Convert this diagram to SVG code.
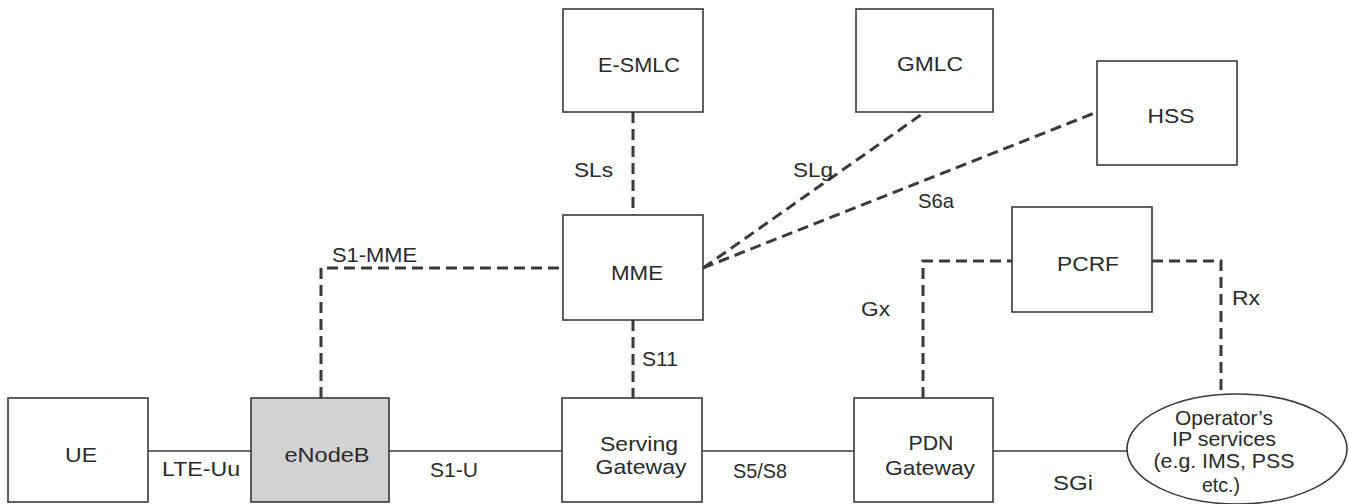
<svg xmlns="http://www.w3.org/2000/svg" width="1349" height="504" viewBox="0 0 1349 504">
<style>
.box{fill:#fff;stroke:#3a3a3a;stroke-width:1.6}
.gray{fill:#d2d2d2}
.solid{fill:none;stroke:#3a3a3a;stroke-width:1.6}
.dash{fill:none;stroke:#3a3a3a;stroke-width:3;stroke-dasharray:11 6}
text{font-family:"Liberation Sans",Arial,sans-serif;font-size:21px;fill:#2a2a2a}
.c{text-anchor:middle}
</style>
<rect width="1349" height="504" fill="#fff"/>
<g id="connectors">
<line class="solid" x1="148" y1="451" x2="251" y2="451"/>
<line class="solid" x1="389" y1="451" x2="562" y2="451"/>
<line class="solid" x1="702" y1="451" x2="854" y2="451"/>
<line class="solid" x1="993" y1="451" x2="1127" y2="451"/>
<path class="dash" d="M321,398 V268 H563"/>
<line class="dash" x1="633" y1="112" x2="633" y2="215"/>
<line class="dash" x1="633" y1="320" x2="633" y2="398"/>
<line class="dash" x1="703" y1="268" x2="925" y2="112"/>
<line class="dash" x1="703" y1="268" x2="1097" y2="112"/>
<path class="dash" d="M923,398 V261 H1012"/>
<path class="dash" d="M1152,261 H1221 V395"/>
<text x="162" y="476" textLength="78" lengthAdjust="spacingAndGlyphs">LTE-Uu</text>
<text x="430" y="477" textLength="48" lengthAdjust="spacingAndGlyphs">S1-U</text>
<text x="733" y="478" textLength="54" lengthAdjust="spacingAndGlyphs">S5/S8</text>
<text x="1053" y="490" textLength="40" lengthAdjust="spacingAndGlyphs">SGi</text>
<text x="332" y="262" textLength="85" lengthAdjust="spacingAndGlyphs">S1-MME</text>
<text x="574" y="177" textLength="39" lengthAdjust="spacingAndGlyphs">SLs</text>
<text x="642" y="366" textLength="36" lengthAdjust="spacingAndGlyphs">S11</text>
<text x="793" y="177" textLength="40" lengthAdjust="spacingAndGlyphs">SLg</text>
<text x="918" y="208" textLength="36" lengthAdjust="spacingAndGlyphs">S6a</text>
<text x="861" y="316" textLength="29" lengthAdjust="spacingAndGlyphs">Gx</text>
<text x="1232" y="305" textLength="28" lengthAdjust="spacingAndGlyphs">Rx</text>
</g>
<g id="ue">
<rect class="box" x="8" y="398" width="140" height="104"/>
<text class="c" x="81" y="462" textLength="32" lengthAdjust="spacingAndGlyphs">UE</text>
</g>
<g id="enodeb">
<rect class="box gray" x="251" y="398" width="138" height="104"/>
<text class="c" x="327" y="462" textLength="85" lengthAdjust="spacingAndGlyphs">eNodeB</text>
</g>
<g id="sgw">
<rect class="box" x="562" y="398" width="140" height="104"/>
<text class="c" x="639" y="451" textLength="78" lengthAdjust="spacingAndGlyphs">Serving</text>
<text class="c" x="641" y="474" textLength="91" lengthAdjust="spacingAndGlyphs">Gateway</text>
</g>
<g id="pgw">
<rect class="box" x="854" y="398" width="139" height="104"/>
<text class="c" x="931" y="450" textLength="45" lengthAdjust="spacingAndGlyphs">PDN</text>
<text class="c" x="930" y="475" textLength="90" lengthAdjust="spacingAndGlyphs">Gateway</text>
</g>
<g id="ipservices">
<ellipse class="box" cx="1237" cy="449" rx="110" ry="55"/>
<text class="c" x="1224" y="425" textLength="98" lengthAdjust="spacingAndGlyphs">Operator’s</text>
<text class="c" x="1224" y="446" textLength="104" lengthAdjust="spacingAndGlyphs">IP services</text>
<text class="c" x="1224" y="468" textLength="141" lengthAdjust="spacingAndGlyphs">(e.g. IMS, PSS</text>
<text class="c" x="1221" y="492" textLength="38" lengthAdjust="spacingAndGlyphs">etc.)</text>
</g>
<g id="esmlc">
<rect class="box" x="563" y="9" width="140" height="103"/>
<text class="c" x="639" y="72" textLength="82" lengthAdjust="spacingAndGlyphs">E-SMLC</text>
</g>
<g id="gmlc">
<rect class="box" x="856" y="9" width="137" height="103"/>
<text class="c" x="930" y="71" textLength="66" lengthAdjust="spacingAndGlyphs">GMLC</text>
</g>
<g id="hss">
<rect class="box" x="1097" y="61" width="140" height="104"/>
<text class="c" x="1171" y="123" textLength="47" lengthAdjust="spacingAndGlyphs">HSS</text>
</g>
<g id="mme">
<rect class="box" x="563" y="215" width="140" height="105"/>
<text class="c" x="637" y="280" textLength="52" lengthAdjust="spacingAndGlyphs">MME</text>
</g>
<g id="pcrf">
<rect class="box" x="1012" y="207" width="140" height="105"/>
<text class="c" x="1088" y="271" textLength="62" lengthAdjust="spacingAndGlyphs">PCRF</text>
</g>
</svg>
